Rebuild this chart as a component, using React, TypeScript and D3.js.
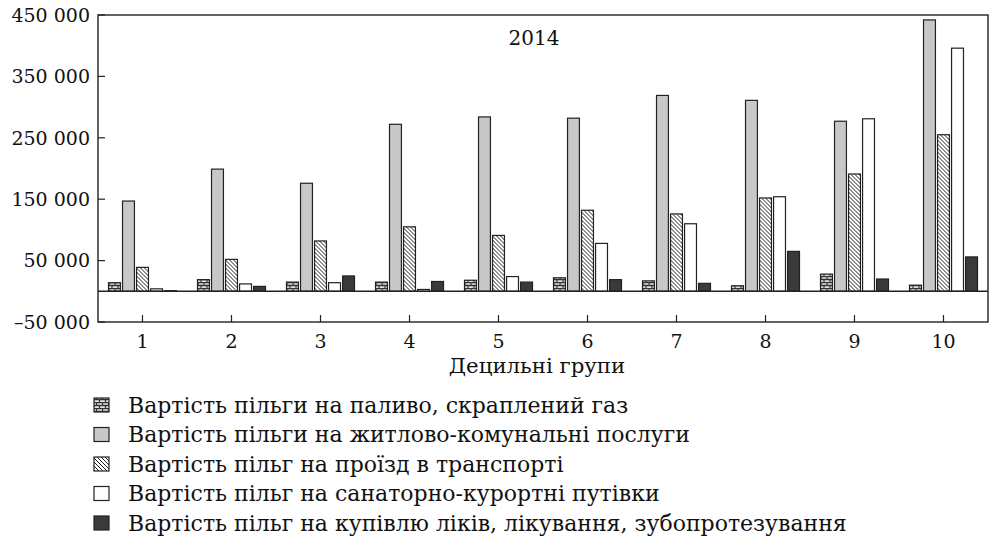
import * as d3 from 'd3';
import * as React from 'react';

// decile groups
const categories = ['1', '2', '3', '4', '5', '6', '7', '8', '9', '10'];

// values per series (UAH)
const fuelGas = [14000, 19000, 15000, 15000, 18000, 22000, 17000, 9000, 28000, 10000];
const housing = [147000, 199000, 176000, 272000, 284000, 282000, 319000, 311000, 277000, 442000];
const transport = [39000, 52000, 82000, 105000, 91000, 132000, 126000, 152000, 191000, 255000];
const sanatorium = [4000, 12000, 14000, 3000, 24000, 78000, 110000, 154000, 281000, 396000];
const medicine = [1000, 8000, 25000, 16000, 15000, 19000, 13000, 65000, 20000, 56000];

const seriesNames = [
    'Вартість пільги на паливо, скраплений газ',
    'Вартість пільги на житлово-комунальні послуги',
    'Вартість пільг на проїзд в транспорті',
    'Вартість пільг на санаторно-курортні путівки',
    'Вартість пільг на купівлю ліків, лікування, зубопротезування',
];
const seriesValues = [fuelGas, housing, transport, sanatorium, medicine];
const seriesFills = ['url(#bricks)', '#c8c8c8', 'url(#hatch)', '#ffffff', '#3a3a3a'];

const yTicks = [-50000, 50000, 150000, 250000, 350000, 450000];

const yearLabel = '2014';
const xTitle = 'Децильні групи';

const W = 989;
const H = 540;
const margin = { left: 98, right: 1, top: 15, bottom: 322 };
const FONT = '"DejaVu Serif", "Liberation Serif", serif';

const fmt = (v: number) => {
    const s = d3.format(',')(Math.abs(v)).replace(/,/g, '\u00a0');
    return (v < 0 ? '–' : '') + s;
};

export default function App() {
    const x0 = d3.scaleBand<string>()
        .domain(categories)
        .range([margin.left, W - margin.right])
        .padding(0);

    const groupWidth = 68;
    const x1 = d3.scaleBand<number>()
        .domain(d3.range(seriesValues.length))
        .range([0, groupWidth])
        .paddingInner(0.15);

    const y = d3.scaleLinear()
        .domain([-50000, 450000])
        .range([margin.bottom, margin.top]);

    const offset = (x0.bandwidth() - groupWidth) / 2;
    const right = W - margin.right;

    return (
        <svg width={W} height={H} style={{ position: 'absolute', left: 0, top: 0, background: '#fff' }}
            fontFamily={FONT}>
            <defs>
                <pattern id="bricks" patternUnits="userSpaceOnUse" width={6} height={6}>
                    <rect width={6} height={6} fill="#e6e6e6" />
                    <path d="M0,0.5H6M0,3.5H6M0.5,0V3.5M3.5,3.5V6" stroke="#333" strokeWidth={1.3} />
                </pattern>
                <pattern id="hatch" patternUnits="userSpaceOnUse" width={4} height={4}>
                    <rect width={4} height={4} fill="#fff" />
                    <path d="M-1,-1L5,5M3,-1L5,1M-1,3L1,5" stroke="#222" strokeWidth={1} />
                </pattern>
            </defs>

            {/* bars */}
            {categories.map((c, i) => (
                <g key={c} transform={`translate(${x0(c)! + offset},0)`}>
                    {seriesValues.map((vals, s) => {
                        const v = vals[i];
                        return (
                            <rect key={s}
                                x={x1(s)}
                                y={y(Math.max(0, v))}
                                width={x1.bandwidth()}
                                height={Math.abs(y(v) - y(0))}
                                fill={seriesFills[s]}
                                stroke="#222"
                                strokeWidth={1.2} />
                        );
                    })}
                </g>
            ))}

            {/* zero line */}
            <line x1={margin.left} x2={right} y1={y(0)} y2={y(0)} stroke="#222" strokeWidth={1.4} />

            {/* frame */}
            <rect x={margin.left} y={margin.top} width={right - margin.left} height={margin.bottom - margin.top}
                fill="none" stroke="#222" strokeWidth={1.4} />

            {/* y ticks */}
            {yTicks.map(t => (
                <g key={t}>
                    <line x1={margin.left} x2={margin.left + 7} y1={y(t)} y2={y(t)} stroke="#222" strokeWidth={1.2} />
                    <text x={90} y={y(t)} dy="0.36em" textAnchor="end" fontSize={19} fill="#111">{fmt(t)}</text>
                </g>
            ))}

            {/* x ticks */}
            {categories.map(c => {
                const cx = x0(c)! + x0.bandwidth() / 2;
                return (
                    <g key={c}>
                        <line x1={cx} x2={cx} y1={margin.bottom} y2={margin.bottom - 7} stroke="#222" strokeWidth={1.2} />
                        <text x={cx} y={348} textAnchor="middle" fontSize={19} fill="#111">{c}</text>
                    </g>
                );
            })}

            <text x={537} y={373} textAnchor="middle" fontSize={21.3} fill="#111">{xTitle}</text>
            <text x={534} y={45} textAnchor="middle" fontSize={20} fill="#111">{yearLabel}</text>

            {/* legend */}
            {seriesNames.map((name, s) => {
                const cy = 405 + s * 29.5;
                return (
                    <g key={name}>
                        <rect x={94} y={cy - 7} width={15} height={14} fill={seriesFills[s]} stroke="#222" strokeWidth={1.2} />
                        <text x={128} y={cy} dy="0.36em" fontSize={22} fill="#111">{name}</text>
                    </g>
                );
            })}
        </svg>
    );
}
